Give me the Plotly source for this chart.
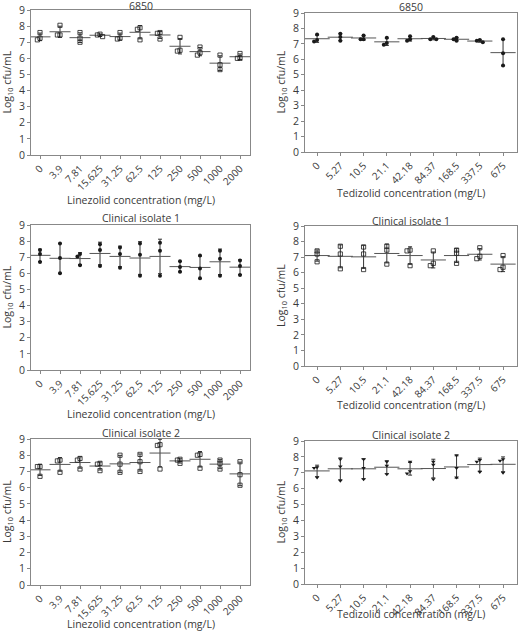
import plotly.graph_objects as go
import numpy as np

lin_conc = ["0", "3.9", "7.81", "15.625", "31.25", "62.5", "125", "250", "500", "1000", "2000"]
ted_conc = ["0", "5.27", "10.5", "21.1", "42.18", "84.37", "168.5", "337.5", "675"]

# replicate log10 cfu/mL values (3 per concentration)
lin_6850 = [[7.6, 7.15, 7.25], [8.05, 7.45, 7.45], [7.6, 7.0, 7.25], [7.5, 7.35, 7.45],
            [7.6, 7.2, 7.25], [7.9, 7.8, 7.15], [7.6, 7.55, 7.2], [7.3, 6.45, 6.5],
            [6.7, 6.2, 6.35], [6.2, 5.6, 5.3], [6.3, 6.0, 6.0]]
ted_6850 = [[7.6, 7.15, 7.25], [7.65, 7.2, 7.45], [7.55, 7.3, 7.3], [7.4, 6.95, 7.05],
            [7.5, 7.2, 7.3], [7.45, 7.3, 7.3], [7.4, 7.2, 7.3], [7.25, 7.1, 7.2],
            [7.3, 6.4, 5.6]]
lin_ci1 = [[7.45, 7.2, 6.7], [7.85, 6.95, 6.0], [7.2, 7.05, 6.5], [7.8, 7.45, 6.45],
           [7.6, 7.2, 6.35], [7.85, 7.15, 5.85], [7.9, 7.4, 5.85], [6.75, 6.4, 6.1],
           [7.1, 6.3, 5.7], [7.4, 6.9, 5.85], [6.8, 6.45, 5.9]]
ted_ci1 = [[7.4, 7.2, 6.7], [7.7, 7.2, 6.25], [7.65, 7.2, 6.2], [7.7, 7.45, 6.55],
           [7.45, 7.4, 6.45], [7.4, 6.6, 6.45], [7.45, 7.25, 6.6], [7.6, 7.05, 6.9],
           [7.1, 6.35, 6.2]]
lin_ci2 = [[7.3, 7.3, 6.7], [7.7, 7.65, 6.95], [7.8, 7.7, 7.15], [7.5, 7.45, 7.05],
           [8.0, 7.45, 6.95], [8.05, 7.6, 7.0], [8.65, 8.6, 7.15], [7.75, 7.7, 7.5],
           [8.05, 8.0, 7.2], [7.7, 7.5, 7.15], [7.6, 6.8, 6.15]]
ted_ci2 = [[7.35, 7.3, 6.7], [7.85, 7.4, 6.5], [7.85, 7.3, 6.6], [7.7, 7.45, 6.9],
           [7.7, 7.1, 6.95], [7.7, 7.5, 6.6], [8.1, 7.3, 6.7], [7.8, 7.7, 7.05],
           [7.85, 7.75, 7.0]]

panels = [
    dict(data=lin_6850, cats=lin_conc, title="6850", drug="Linezolid", sym="square-open",
         dx=[31, 250], dy=[10, 155], ty=6, xt=200, yt=7),
    dict(data=ted_6850, cats=ted_conc, title="6850", drug="Tedizolid", sym="circle",
         dx=[305, 517], dy=[13, 152], ty=7, xt=193, yt=281),
    dict(data=lin_ci1, cats=lin_conc, title="Clinical isolate 1", drug="Linezolid", sym="circle",
         dx=[31, 250], dy=[225, 370], ty=218, xt=414, yt=7),
    dict(data=ted_ci1, cats=ted_conc, title="Clinical isolate 1", drug="Tedizolid", sym="square-open",
         dx=[305, 517], dy=[226, 366], ty=221, xt=405, yt=281),
    dict(data=lin_ci2, cats=lin_conc, title="Clinical isolate 2", drug="Linezolid", sym="square-open",
         dx=[31, 250], dy=[439, 585], ty=433, xt=624, yt=7),
    dict(data=ted_ci2, cats=ted_conc, title="Clinical isolate 2", drug="Tedizolid", sym="triangle-down",
         dx=[305, 517], dy=[441, 584], ty=435, xt=614, yt=281),
]

W, H = 520, 631
FONT = "Open Sans"
TXT = "#3a3a3a"

fig = go.Figure()
annotations = []


def swarm(vals, thr=0.18, step=0.13):
    order = np.argsort(vals)[::-1]
    placed = []
    offs = [0.0] * len(vals)
    cands = [0, -step, step, -2 * step, 2 * step]
    for i in order:
        for c in cands:
            if all(abs(vals[i] - v) > thr or abs(c - o) > step * 0.9 for v, o in placed):
                offs[i] = c
                placed.append((vals[i], c))
                break
    return offs


layout = {}
for k, p in enumerate(panels):
    n = k + 1
    xa = "x" if n == 1 else f"x{n}"
    ya = "y" if n == 1 else f"y{n}"
    ncat = len(p["cats"])
    idx = list(range(ncat))
    xs, ys = [], []
    means, sds = [], []
    for i, reps in enumerate(p["data"]):
        offs = swarm(reps)
        for v, o in zip(reps, offs):
            xs.append(i + o)
            ys.append(v)
        means.append(float(np.mean(reps)))
        sds.append(float(np.std(reps, ddof=1)))
    left = p["drug"] == "Linezolid"
    mw = 15 if left else 18
    fig.add_trace(go.Scatter(
        x=idx, y=means, mode="markers", xaxis=xa, yaxis=ya, showlegend=False,
        marker=dict(symbol="line-ew", size=mw, color="#555555",
                    line=dict(color="#555555", width=1)),
        error_y=dict(type="data", array=sds, visible=True, color="#333333", thickness=1, width=2),
        hoverinfo="skip"))
    filled = "open" not in p["sym"]
    fig.add_trace(go.Scatter(
        x=xs, y=ys, mode="markers", xaxis=xa, yaxis=ya, showlegend=False,
        marker=dict(symbol=p["sym"], size=4 if filled else 4.2,
                    color="#1a1a1a", line=dict(color="#1a1a1a", width=0.8 if not filled else 0))))
    rng = [-0.45, ncat - 0.5] if left else [-0.52, ncat - 0.4]
    layout["xaxis" if n == 1 else f"xaxis{n}"] = dict(
        domain=[p["dx"][0] / W, p["dx"][1] / W], anchor=ya, range=rng,
        tickmode="array", tickvals=idx, ticktext=p["cats"], tickangle=-45,
        showgrid=False, zeroline=False, showline=True, linecolor="#888888", linewidth=1,
        mirror=True, ticks="outside", ticklen=3, tickcolor="#888888",
        tickfont=dict(family=FONT, size=10, color=TXT), automargin=False)
    layout["yaxis" if n == 1 else f"yaxis{n}"] = dict(
        domain=[1 - p["dy"][1] / H, 1 - p["dy"][0] / H], anchor=xa, range=[0, 9],
        tickmode="array", tickvals=list(range(10)), showgrid=False, zeroline=False,
        showline=True, linecolor="#888888", linewidth=1, mirror=True,
        ticks="outside", ticklen=3, tickcolor="#888888",
        tickfont=dict(family=FONT, size=10.5, color=TXT), automargin=False)
    xc = (p["dx"][0] + p["dx"][1]) / 2 / W
    annotations.append(dict(text=p["title"], x=xc, y=1 - p["ty"] / H, xref="paper", yref="paper",
                            xanchor="center", yanchor="middle", showarrow=False,
                            font=dict(family=FONT, size=10.5, color=TXT)))
    annotations.append(dict(text=f"{p['drug']} concentration (mg/L)", x=xc, y=1 - p["xt"] / H,
                            xref="paper", yref="paper", xanchor="center", yanchor="middle",
                            showarrow=False, font=dict(family=FONT, size=10.5, color=TXT)))
    yc = 1 - (p["dy"][0] + p["dy"][1]) / 2 / H
    annotations.append(dict(text="Log<sub>10</sub> cfu/mL", x=p["yt"] / W, y=yc, xref="paper",
                            yref="paper", xanchor="center", yanchor="middle", textangle=-90,
                            showarrow=False, font=dict(family=FONT, size=10.5, color=TXT)))

fig.update_layout(width=W, height=H, margin=dict(l=0, r=0, t=0, b=0),
                  paper_bgcolor="white", plot_bgcolor="white",
                  annotations=annotations, **layout)

fig.write_html("out.html", config={"displayModeBar": False},
               post_script="document.body.style.margin='0';")
